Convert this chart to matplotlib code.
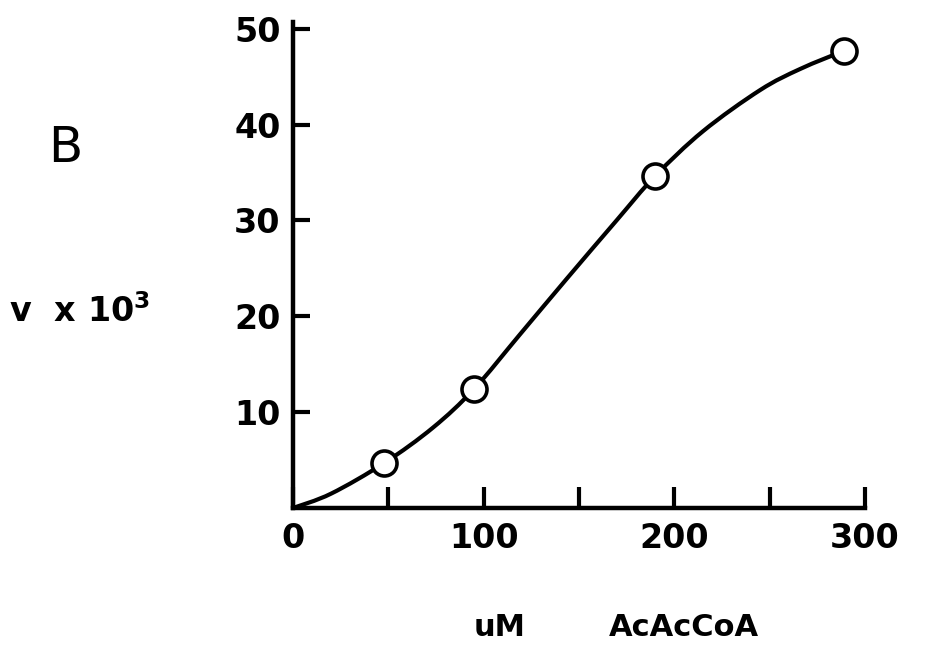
import matplotlib
matplotlib.use("Agg")
import matplotlib.pyplot as plt
from matplotlib.path import Path
from matplotlib.patches import PathPatch
import numpy as np

plt.rcParams['font.family'] = ['DejaVu Sans']
plt.rcParams['mathtext.default'] = 'bf'

# measured data points (uM AcAcCoA, v x 10^3)
conc = [47.9, 94.9, 189.8, 289.0]
rate = [4.7, 12.4, 34.6, 47.7]

# points
curve_x = [0, 20, 47.9, 73.5, 94.9, 119, 143.5, 169.7, 189.8, 215, 245, 266, 289.0]
curve_y = [0, 1.5, 4.7, 8.4, 12.4, 18.1, 23.9, 30.0, 34.6, 39.3, 43.6, 45.8, 47.7]

x_major = [0, 100, 200, 300]
x_minor = [50, 150, 250]
y_major = [10, 20, 30, 40, 50]

fig = plt.figure(figsize=(9.25, 6.46), dpi=100)
ax = fig.add_axes([293/925, 1 - 508/646, (865-293)/925, (508-22)/646])
ax.set_xlim(0, 300)
ax.set_ylim(0, 50.7)

# smooth curve through read points (Catmull-Rom as cubic Bezier)
P = np.column_stack([curve_x, curve_y])
verts = [tuple(P[0])]
codes = [Path.MOVETO]
n = len(P)
for i in range(n - 1):
    p0 = P[i - 1] if i > 0 else P[i]
    p1 = P[i]
    p2 = P[i + 1]
    p3 = P[i + 2] if i + 2 < n else P[i + 1]
    c1 = p1 + (p2 - p0) / 6.0
    c2 = p2 - (p3 - p1) / 6.0
    verts += [tuple(c1), tuple(c2), tuple(p2)]
    codes += [Path.CURVE4] * 3
ax.add_patch(PathPatch(Path(verts, codes), fill=False, lw=3.0, ec='black',
                       capstyle='round', zorder=2, clip_on=False))

ax.plot(conc, rate, 'o', ms=18, mfc='white', mec='black', mew=2.6, zorder=3,
        clip_on=False)

for s in ['top', 'right']:
    ax.spines[s].set_visible(False)
for s in ['left', 'bottom']:
    ax.spines[s].set_linewidth(3.2)
    ax.spines[s].set_capstyle('projecting')

ax.set_xticks(x_major)
ax.set_xticks(x_minor, minor=True)
ax.set_yticks(y_major)
ax.set_xticklabels([str(v) for v in x_major])
ax.set_yticklabels([str(v) for v in y_major])
ax.tick_params(axis='x', which='both', direction='in', length=15, width=3.0,
               pad=10, labelsize=24)
ax.tick_params(axis='y', which='both', direction='in', length=12, width=3.0,
               pad=9, labelsize=24)
for lab in ax.get_xticklabels() + ax.get_yticklabels():
    lab.set_fontweight('bold')

fig.text(65/925, 1 - 148/646, 'B', fontsize=36, ha='center', va='center')
fig.text(80/925, 1 - 312/646, 'v  x 10$^3$', fontsize=24, fontweight='bold',
         ha='center', va='center')
fig.text(500/925, 1 - 628/646, 'uM', fontsize=22, fontweight='bold',
         ha='center', va='center')
fig.text(684/925, 1 - 628/646, 'AcAcCoA', fontsize=22, fontweight='bold',
         ha='center', va='center')

fig.savefig('out.png', dpi=100)
